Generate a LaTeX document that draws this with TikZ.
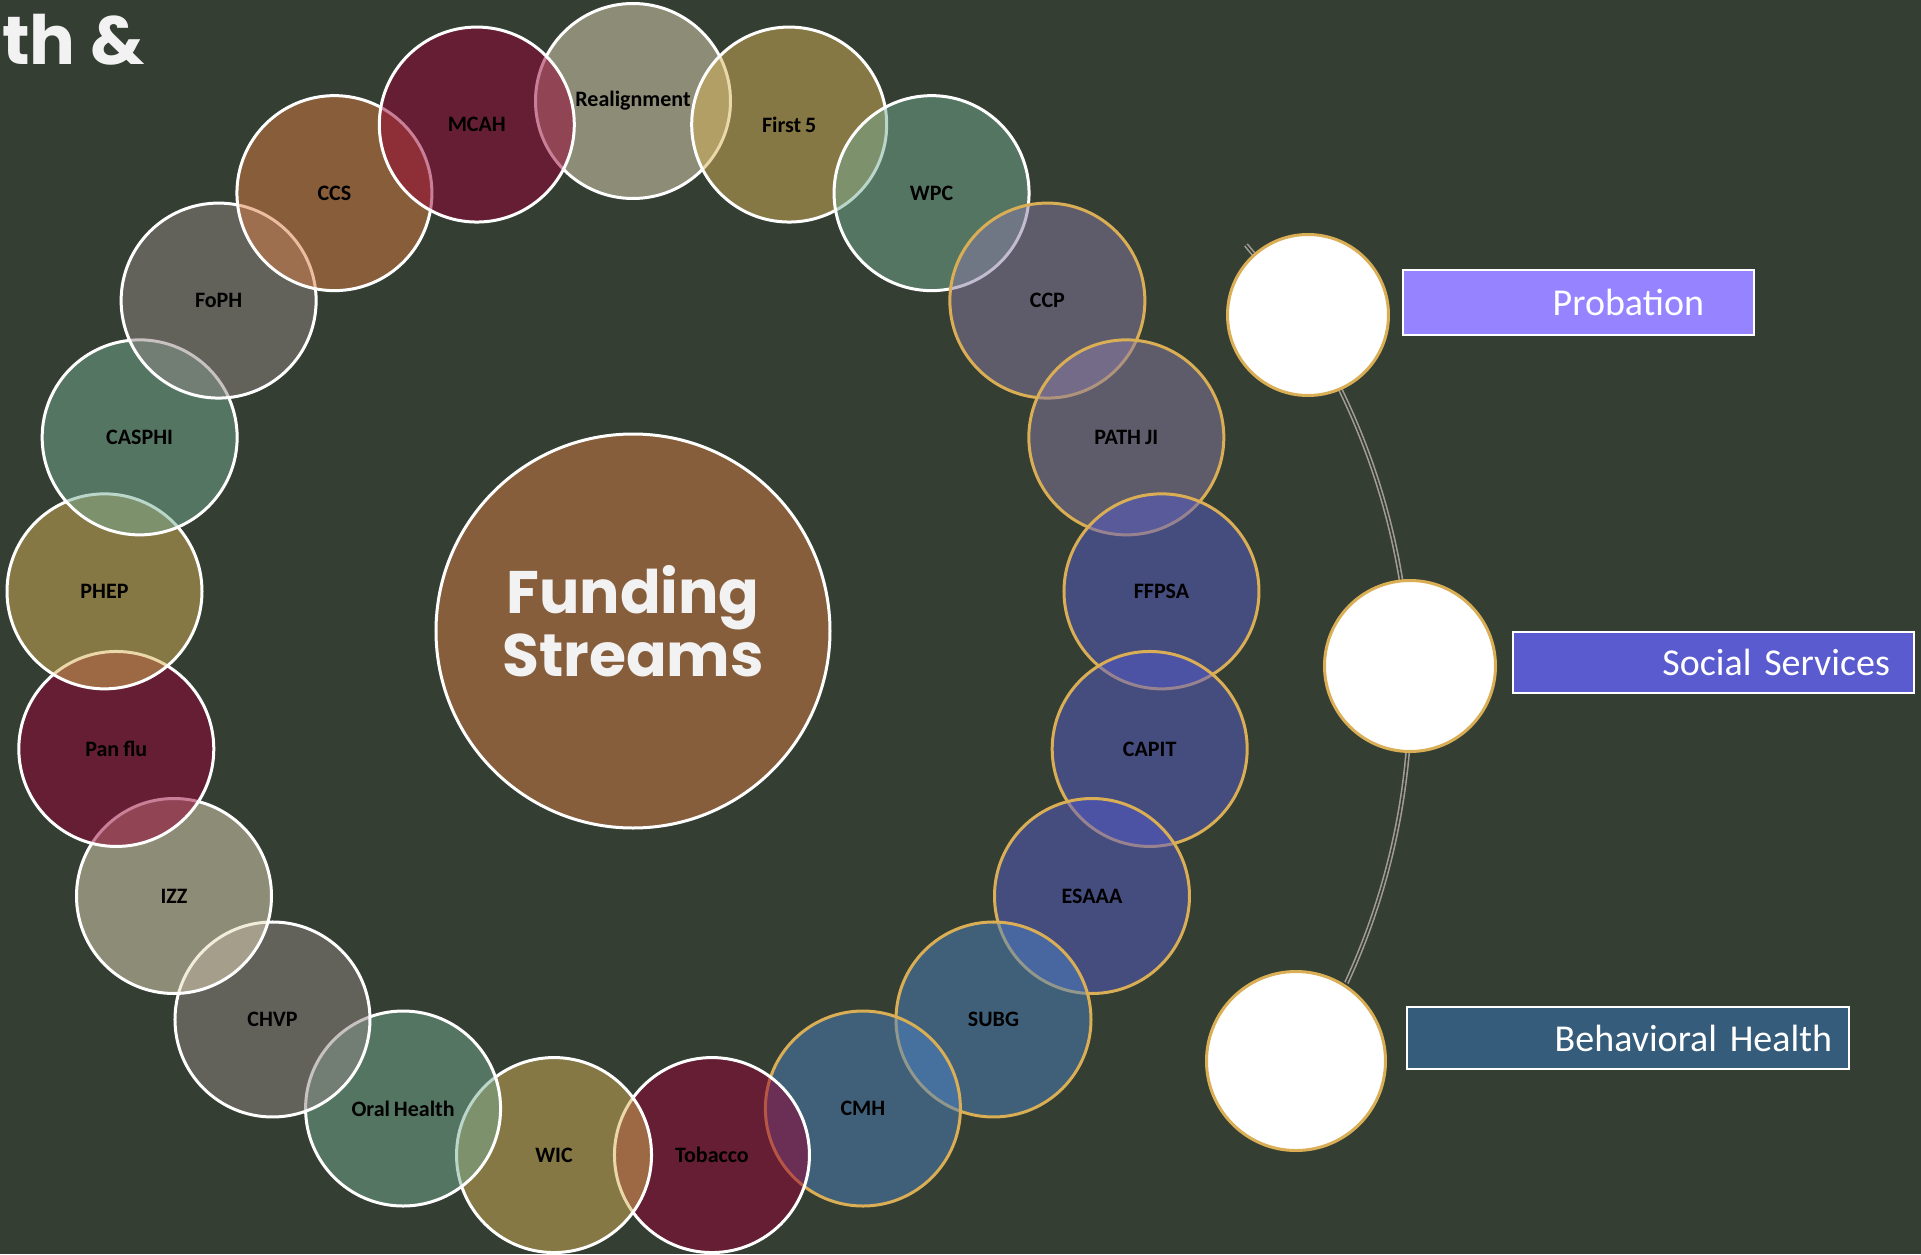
\documentclass[tikz,border=0pt]{standalone}
\usepackage{fontspec}
\usepackage{xcolor}
\usepackage{tikz}
\setmainfont{Carlito}[WordSpace=0.8]
\newfontfamily\bubblefont{Poppins}
\definecolor{bgc}{HTML}{343E32}
\definecolor{titlec}{HTML}{F2F2F2}
\definecolor{hubc}{HTML}{875E3C}
\definecolor{maroonc}{HTML}{960034}
\definecolor{beigec}{HTML}{E6DABA}
\definecolor{olivec}{HTML}{D6B256}
\definecolor{sagec}{HTML}{76AC94}
\definecolor{greyc}{HTML}{908684}
\definecolor{brownc}{HTML}{DA7C42}
\definecolor{mauvec}{HTML}{887AA4}
\definecolor{indigoc}{HTML}{565ACA}
\definecolor{steelc}{HTML}{4C82C2}
\definecolor{goldc}{HTML}{D9AE55}
\definecolor{linkc}{HTML}{A29B94}
\definecolor{probc}{HTML}{9683FF}
\definecolor{socc}{HTML}{5A5BCF}
\definecolor{behc}{HTML}{365C7C}

\begin{document}
\begin{tikzpicture}[x=1pt,y=1pt,
  fund/.style={circle, draw=white, line width=3pt, fill opacity=0.5, text opacity=1, minimum size=195pt, inner sep=0pt, font=\bfseries\fontsize{22}{26}\selectfont},
  fundgold/.style={fund, draw=goldc},
  dept/.style={circle, fill=white, draw=goldc, line width=3pt, inner sep=0pt},
  deptbox/.style={draw=white, line width=2.5pt, text=white, align=right, inner ysep=0pt, font=\fontsize{38}{44}\selectfont},
  link/.style={draw=linkc, line width=1.6pt, double=bgc, double distance=1.6pt}]

\useasboundingbox (-633,-623) rectangle (1288,631);
\fill[bgc] (-633,-623) rectangle (1288,631);

\node[anchor=base west, inner sep=0pt, text=titlec, font=\bubblefont\bfseries\fontsize{68}{68}\selectfont] (title) at (-631,566) {th \&};

\node[circle, fill=hubc, draw=white, line width=3pt, minimum size=394pt] (fs) at (0,0) {};
\node[align=center, text=titlec, font=\bubblefont\bfseries\fontsize{60}{63}\selectfont] (fstext) at (0,10) {Funding\\Streams};

\node[fund, fill=beigec] (realign) at (90:530) {Realignment};
\node[fund, fill=olivec] (firstfive) at (72.86:530) {First 5};
\node[fund, fill=sagec] (wpc) at (55.71:530) {WPC};
\node[fundgold, fill=mauvec] (ccp) at (38.57:530) {CCP};
\node[fundgold, fill=mauvec] (pathji) at (21.43:530) {PATH JI};
\node[fundgold, fill=indigoc] (ffpsa) at (4.29:530) {FFPSA};
\node[fundgold, fill=indigoc] (capit) at (-12.86:530) {CAPIT};
\node[fundgold, fill=indigoc] (esaaa) at (-30:530) {ESAAA};
\node[fundgold, fill=steelc] (subg) at (-47.14:530) {SUBG};
\node[fundgold, fill=steelc] (cmh) at (-64.29:530) {CMH};
\node[fund, fill=maroonc] (tobacco) at (-81.43:530) {Tobacco};
\node[fund, fill=olivec] (wic) at (-98.57:530) {WIC};
\node[fund, fill=sagec] (oralhealth) at (-115.71:530) {Oral Health};
\node[fund, fill=greyc] (chvp) at (-132.86:530) {CHVP};
\node[fund, fill=beigec] (izz) at (-150:530) {IZZ};
\node[fund, fill=maroonc] (panflu) at (-167.14:530) {Pan flu};
\node[fund, fill=olivec] (phep) at (-184.29:530) {PHEP};
\node[fund, fill=sagec] (casphi) at (-201.43:530) {CASPHI};
\node[fund, fill=greyc] (foph) at (-218.57:530) {FoPH};
\node[fund, fill=brownc] (ccs) at (-235.71:530) {CCS};
\node[fund, fill=maroonc] (mcah) at (-252.86:530) {MCAH};

\coordinate (arcstart) at (613,386);
\draw[link] (arcstart) arc[start angle=40.3, end angle=-24.8, radius=692];

\node[dept, minimum size=161pt] (probation) at (675,316) {};
\node[dept, minimum size=171pt] (social) at (777,-35) {};
\node[dept, minimum size=179pt] (behavioral) at (663,-430) {};

\node[deptbox, fill=probc, text width=251pt, inner xsep=50pt, minimum height=65pt] (probbox) at (945.5,328.5) {Probation};
\node[deptbox, fill=socc, text width=353pt, inner xsep=24pt, minimum height=61pt] (socbox) at (1080.5,-31.5) {Social Services};
\node[deptbox, fill=behc, text width=408pt, inner xsep=17pt, minimum height=62pt] (behbox) at (995,-407) {Behavioral Health};
\end{tikzpicture}
\end{document}
